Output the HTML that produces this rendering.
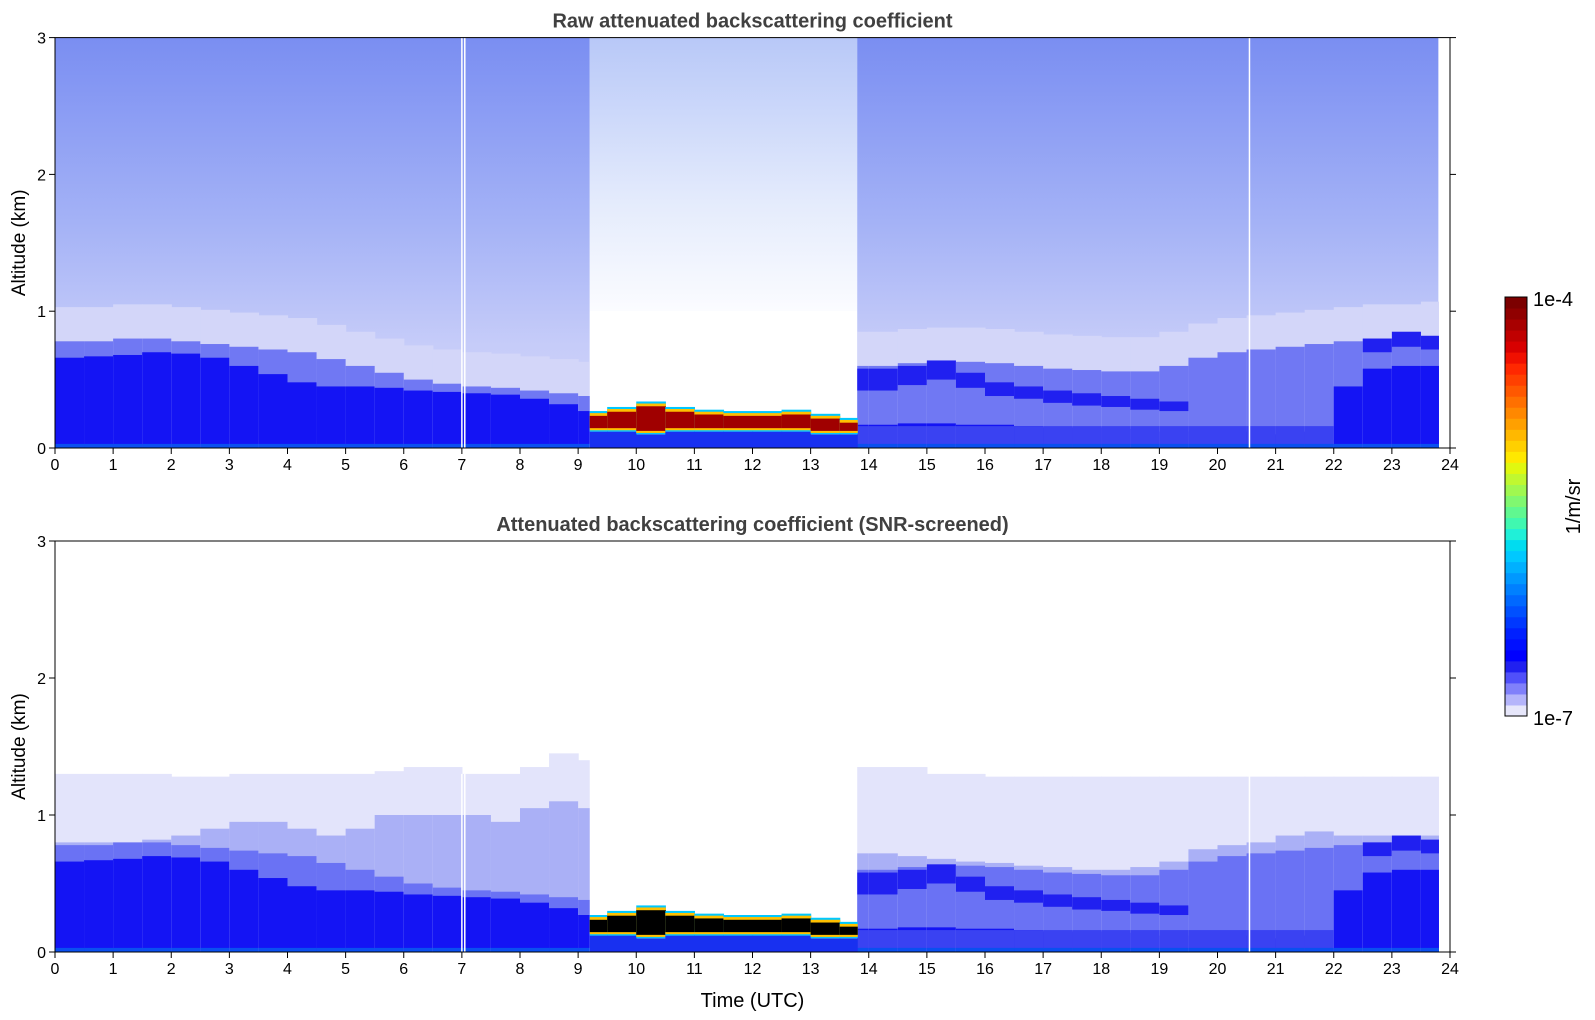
<!DOCTYPE html>
<html><head><meta charset="utf-8">
<style>
html,body{margin:0;padding:0;background:#fff;}
svg{display:block;font-family:"Liberation Sans","DejaVu Sans",sans-serif;}
</style></head>
<body>
<svg id="fig" width="1595" height="1020" viewBox="0 0 1595 1020" xmlns="http://www.w3.org/2000/svg">
<defs>
<linearGradient id="noiseGrad" x1="0" y1="0" x2="0" y2="1">
<stop offset="0" stop-color="#7a8ef2"/><stop offset="0.45" stop-color="#a4b2f6"/><stop offset="0.75" stop-color="#c6ccf9"/><stop offset="1" stop-color="#d4d6fa"/>
</linearGradient>
<linearGradient id="gapGrad" x1="0" y1="0" x2="0" y2="1">
<stop offset="0" stop-color="#b8c8f8"/><stop offset="0.6" stop-color="#e4ebfc"/><stop offset="1" stop-color="#fbfcff"/>
</linearGradient>
</defs>
<g id="top-panel"></g>
<g id="bot-panel"></g>
<g id="cbar"></g>
</svg>
<script>
// ---- data (column starts every 0.5 h, altitudes in km) ----
const times = [0,0.5,1,1.5,2,2.5,3,3.5,4,4.5,5,5.5,6,6.5,7,7.5,8,8.5,9,9.5,10,10.5,11,11.5,12,12.5,13,13.5,14,14.5,15,15.5,16,16.5,17,17.5,18,18.5,19,19.5,20,20.5,21,21.5,22,22.5,23,23.5];
const darkTop = [.66,.67,.68,.70,.69,.66,.60,.54,.48,.45,.45,.44,.42,.41,.40,.39,.36,.32,.27,0,0,0,0,0,0,0,0,0,.17,.18,.18,.17,.17,.16,.15,.15,.15,.14,.12,.12,.12,.12,.10,.12,.45,.58,.60,.60];
const midTop = [.78,.78,.80,.80,.78,.76,.74,.72,.70,.65,.60,.55,.50,.47,.45,.44,.42,.40,.38,0,0,0,0,0,0,0,0,0,.60,.62,.63,.63,.62,.60,.58,.57,.56,.56,.60,.66,.70,.72,.74,.76,.78,.80,.80,.82];
const bandLo = [0,0,0,0,0,0,0,0,0,0,0,0,0,0,0,0,0,0,0,0,0,0,0,0,0,0,0,0,.42,.46,.50,.44,.38,.36,.33,.31,.30,.28,.27,0,0,0,0,0,0,.70,.74,.72];
const bandHi = [0,0,0,0,0,0,0,0,0,0,0,0,0,0,0,0,0,0,0,0,0,0,0,0,0,0,0,0,.58,.60,.64,.55,.48,.45,.42,.40,.38,.36,.34,0,0,0,0,0,0,.80,.85,.82];
const screenTop = [1.3,1.3,1.3,1.3,1.28,1.28,1.3,1.3,1.3,1.3,1.3,1.32,1.35,1.35,1.3,1.3,1.35,1.45,1.4,0,0,0,0,0,0,0,0,0,1.35,1.35,1.3,1.3,1.28,1.28,1.28,1.28,1.28,1.28,1.28,1.28,1.28,1.28,1.28,1.28,1.28,1.28,1.28,1.28];
const lavTop = [.80,.80,.80,.82,.85,.90,.95,.95,.90,.85,.90,1.0,1.0,1.0,1.0,.95,1.05,1.1,1.05,0,0,0,0,0,0,0,0,0,.72,.70,.68,.66,.65,.63,.62,.60,.60,.62,.66,.75,.78,.80,.85,.88,.85,.85,.85,.85];
const cloudTimes = [9.2,9.5,10,10.5,11,11.5,12,12.5,13,13.5];
const cloudLo = [.12,.12,.10,.12,.12,.12,.12,.12,.10,.10];
const cloudHi = [.27,.30,.34,.30,.28,.27,.27,.28,.25,.22];
const xTicks = [0,1,2,3,4,5,6,7,8,9,10,11,12,13,14,15,16,17,18,19,20,21,22,23,24];
const yTicks = [0,1,2,3];

const NS="http://www.w3.org/2000/svg";
const X0=55, X1=1450;
function xs(t){return X0+(X1-X0)*t/24;}
function mk(tag,attrs,parent){const e=document.createElementNS(NS,tag);for(const k in attrs)e.setAttribute(k,attrs[k]);parent.appendChild(e);return e;}
const GAP0=9.2, GAP1=13.8, TEND=23.8;

function panel(gid, top, bot, title, screened){
  const g=document.getElementById(gid);
  const ys=h=>bot-(bot-top)*h/3;
  const colEnd=i=>Math.min(i+1<times.length?times[i+1]:TEND,TEND);
  if(!screened){
    let r=mk('rect',{x:xs(0),y:ys(3),width:xs(GAP0)-xs(0),height:ys(0)-ys(3),fill:'url(#noiseGrad)'},g);
    
    r=mk('rect',{x:xs(GAP1),y:ys(3),width:xs(TEND)-xs(GAP1),height:ys(0)-ys(3),fill:'url(#noiseGrad)'},g);
    
    r=mk('rect',{x:xs(GAP0),y:ys(3),width:xs(GAP1)-xs(GAP0),height:ys(1)-ys(3),fill:'url(#gapGrad)'},g);
    
  }
  const cLight = screened?'#e3e4fb':'#d3d6f9';
  const cLav = screened?'#aab0f6':'#9aa0f5';
  const cMid = screened?'#6a72f4':'#7078f3';
  const cDark = '#1414f4';
  times.forEach((t,i)=>{
    let t0=t, t1=colEnd(i), k=i;
    if(t>=9.5 && t<13.5) return;
    if(t===13.5){ t0=GAP1; k=i+1; }
    const w=xs(t1)-xs(t0)+0.6;
    function cell(h0,h1,fill,name){
      if(h1<=h0) return;
      const r=mk('rect',{x:xs(t0),y:ys(h1),width:w,height:ys(h0)-ys(h1),fill:fill},g);
      
      
    }
    if(screened){ cell(0,screenTop[k],cLight,'screened-light-cell'); cell(0,lavTop[k],cLav,'screened-lavender-cell'); }
    else { cell(0,midTop[k]+0.25,cLight,'light-layer-cell'); }
    cell(0,midTop[k],cMid,'mixing-layer-cell');
    cell(0,darkTop[k],cDark,'boundary-layer-cell');
    if(bandHi[k]>0) cell(bandLo[k],bandHi[k],'#2020f0','aerosol-band-cell');
    if(t0>=13.8 && t<22) cell(0.02,0.16,'#3a42f2','surface-layer-cell');
    cell(0,0.03,'#0a50f0','near-surface-cell');
  });
  let gw=mk('rect',{x:xs(GAP0),y:ys(screened?3:1),width:xs(GAP1)-xs(GAP0),height:ys(0)-ys(screened?3:1),fill:'#ffffff'},g);
  
  cloudTimes.forEach((t,i)=>{
    const t1=i+1<cloudTimes.length?cloudTimes[i+1]:GAP1;
    const x=xs(t), w=xs(t1)-xs(t)+0.6;
    const lo=cloudLo[i], hi=cloudHi[i];
    let r=mk('rect',{x:x,y:ys(lo),width:w,height:ys(0)-ys(lo),fill:'#1830f0'},g);
    
    r=mk('rect',{x:x,y:ys(hi),width:w,height:ys(lo)-ys(hi),fill:'#00c8ff'},g);
    
    r=mk('rect',{x:x,y:ys(hi-0.015),width:w,height:ys(lo+0.01)-ys(hi-0.015),fill:'#ffc000'},g);
    
    r=mk('rect',{x:x,y:ys(hi-0.035),width:w,height:ys(lo+0.025)-ys(hi-0.035),fill:screened?'#000000':'#a00000'},g);
    
  });
  [7.0,7.05,20.55].forEach(t=>{
    const l=mk('line',{x1:xs(t),x2:xs(t),y1:ys(screened?1.3:3),y2:ys(0),stroke:'#ffffff','stroke-width':1.5},g);
    
  });
  const f=mk('rect',{x:X0,y:top,width:X1-X0,height:bot-top,fill:'none',stroke:'#000','stroke-width':1},g);
  
  xTicks.forEach(v=>{
    const x=xs(v);
    let l=mk('line',{x1:x,x2:x,y1:bot,y2:bot+6,stroke:'#000'},g);
    
    const tx=mk('text',{x:x,y:bot+22,'font-size':16,'text-anchor':'middle',fill:'#000'},g);
    tx.textContent=v;
    
  });
  yTicks.forEach(v=>{
    const y=ys(v);
    let l=mk('line',{x1:X0-6,x2:X0,y1:y,y2:y,stroke:'#000'},g);
    
    l=mk('line',{x1:X1,x2:X1+6,y1:y,y2:y,stroke:'#000'},g);
    
    const tx=mk('text',{x:X0-9,y:y+6,'font-size':16,'text-anchor':'end',fill:'#000'},g);
    tx.textContent=v;
    
  });
  const yl=mk('text',{x:0,y:0,'font-size':19,'text-anchor':'middle',transform:`translate(25,${(top+bot)/2}) rotate(-90)`,fill:'#000'},g);
  yl.textContent='Altitude (km)';
  
  const tt=mk('text',{x:(X0+X1)/2,y:top-10,'font-size':20,'font-weight':'bold','text-anchor':'middle',fill:'#404040'},g);
  tt.textContent=title;
  
}
panel('top-panel',37.6,448,'Raw attenuated backscattering coefficient',false);
panel('bot-panel',541,952,'Attenuated backscattering coefficient (SNR-screened)',true);
(function(){
  const g=document.getElementById('bot-panel');
  const xl=mk('text',{x:(X0+X1)/2,y:1007,'font-size':20,'text-anchor':'middle',fill:'#000'},g);
  xl.textContent='Time (UTC)';
  
})();
(function(){
  const g=document.getElementById('cbar');
  const cx=1505,cw=22,ct=297,cb=716;
  const cols=['#e6e6fa','#b4b4fa','#8080fa','#5050fa','#2020f0','#0000ff','#0010ff','#0020ff','#0038ff','#0050ff','#0068ff','#0080ff','#0098ff','#00b0ff','#00c8ff','#00dcf0','#20f0d8','#40f8b0','#60f890','#80f870','#a0f850','#c0f830','#e0f810','#ffe800','#ffd000','#ffb800','#ffa000','#ff8800','#ff7000','#ff5800','#ff4000','#ff2800','#f01000','#d80000','#c00000','#a80000','#900000','#7c0000'];
  const n=cols.length,h=(cb-ct)/n;
  cols.forEach((c,i)=>{
    const r=mk('rect',{x:cx,y:cb-(i+1)*h,width:cw,height:h+0.5,fill:c},g);
    
  });
  const f=mk('rect',{x:cx,y:ct,width:cw,height:cb-ct,fill:'none',stroke:'#000'},g);
  
  let t=mk('text',{x:cx+28,y:ct+9,'font-size':20,fill:'#000'},g);t.textContent='1e-4';
  
  t=mk('text',{x:cx+28,y:cb+9,'font-size':20,fill:'#000'},g);t.textContent='1e-7';
  
  t=mk('text',{x:0,y:0,'font-size':20,'text-anchor':'middle',fill:'#000',transform:`translate(1580,${(ct+cb)/2}) rotate(-90)`},g);t.textContent='1/m/sr';
  
})();
</script>
</body></html>
